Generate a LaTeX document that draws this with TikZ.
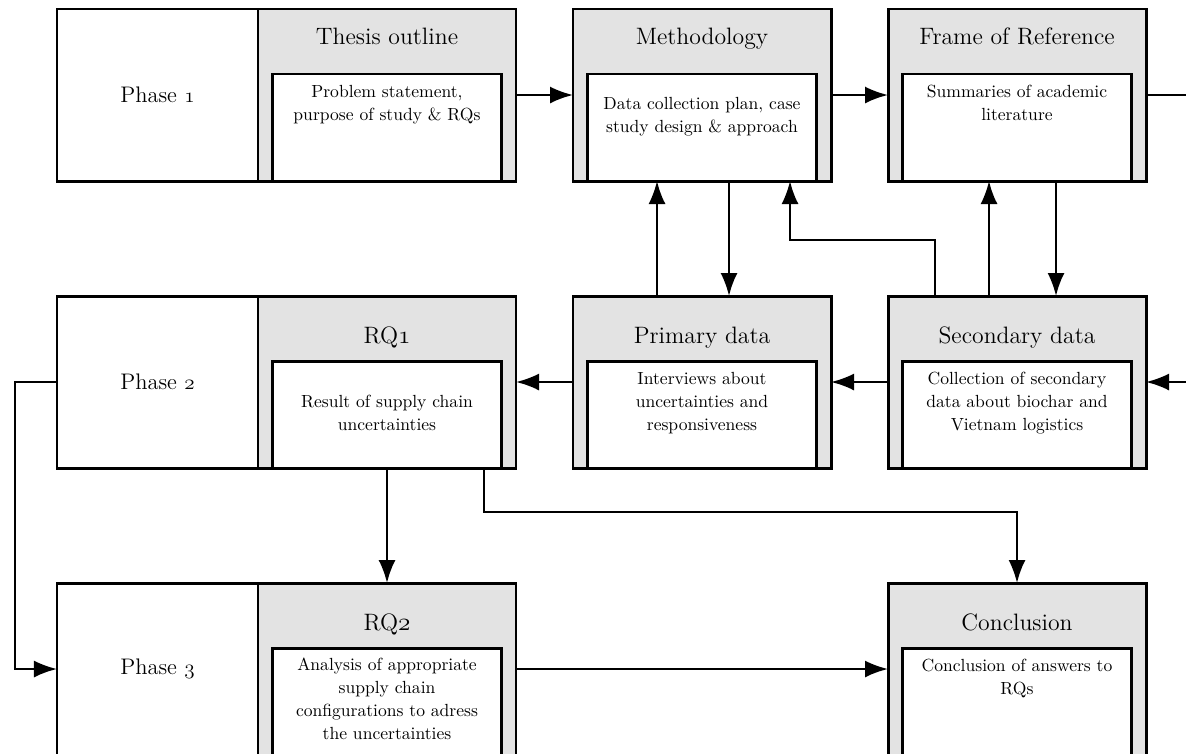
\documentclass[tikz,border=0pt]{standalone}
\usepackage{xcolor}
\usepackage{tikz}
\usetikzlibrary{arrows.meta,positioning}
\definecolor{panelgray}{HTML}{E3E3E3}

\begin{document}
\begin{tikzpicture}[>=Latex,
  phasebox/.style={draw,line width=1.7pt,fill=white,outer sep=0pt,inner sep=0pt,minimum width=4.02cm,minimum height=3.44cm,font=\fontsize{12.8}{15}\selectfont},
  stagebox/.style={draw,line width=1.7pt,fill=panelgray,outer sep=0pt,inner sep=0pt,minimum width=5.16cm,minimum height=3.44cm},
  stagetitle/.style={inner sep=0pt,anchor=base,font=\fontsize{13.5}{16}\selectfont},
  detailbox/.style={draw,line width=1.7pt,fill=white,outer sep=0pt,inner sep=0pt,minimum width=4.58cm,minimum height=2.14cm},
  detailtext/.style={inner sep=0pt,anchor=north,align=center,font=\fontsize{10}{13}\selectfont},
  flow/.style={-{Latex[length=4.6mm,width=3.4mm]},line width=1.3pt},
  link/.style={line width=1.3pt}]
  \useasboundingbox (0,0) rectangle (23.72,-15.06);
  \clip (0,0) rectangle (23.72,-15.06);

  % phase 1
  \node[phasebox] (phase1) at (3.15,-1.9) {Phase \legacyoldstylenums{1}};
  \node[stagebox,right=0pt of phase1] (thesis) {};
  \node[stagebox,right=1.14cm of thesis] (method) {};
  \node[stagebox,right=1.14cm of method] (frame) {};
  \node[stagetitle] (thesist) at ([yshift=-0.7cm]thesis.north) {Thesis outline};
  \node[stagetitle] (methodt) at ([yshift=-0.7cm]method.north) {Methodology};
  \node[stagetitle] (framet) at ([yshift=-0.7cm]frame.north) {Frame of Reference};
  \node[detailbox,above=0pt of thesis.south] (thesisd) {};
  \node[detailbox,above=0pt of method.south] (methodd) {};
  \node[detailbox,above=0pt of frame.south] (framed) {};
  \node[detailtext,below=0.22cm of thesisd.north] (thesisx) {Problem statement,\\ purpose of study \& RQs};
  \node[detailtext,below=0.46cm of methodd.north] (methodx) {Data collection plan, case\\ study design \& approach};
  \node[detailtext,below=0.22cm of framed.north] (framex) {Summaries of academic\\ literature};

  % phase 2
  \node[phasebox,below=2.3cm of phase1] (phase2) {Phase \legacyoldstylenums{2}};
  \node[stagebox,right=0pt of phase2] (rq1) {};
  \node[stagebox,right=1.14cm of rq1] (primary) {};
  \node[stagebox,right=1.14cm of primary] (second) {};
  \node[stagetitle] (rq1t) at ([yshift=-0.94cm]rq1.north) {RQ\legacyoldstylenums{1}};
  \node[stagetitle] (primaryt) at ([yshift=-0.94cm]primary.north) {Primary data};
  \node[stagetitle] (secondt) at ([yshift=-0.94cm]second.north) {Secondary data};
  \node[detailbox,above=0pt of rq1.south] (rq1d) {};
  \node[detailbox,above=0pt of primary.south] (primaryd) {};
  \node[detailbox,above=0pt of second.south] (secondd) {};
  \node[detailtext,below=0.68cm of rq1d.north] (rq1x) {Result of supply chain\\ uncertainties};
  \node[detailtext,below=0.22cm of primaryd.north] (primaryx) {Interviews about\\ uncertainties and\\ responsiveness};
  \node[detailtext,below=0.22cm of secondd.north] (secondx) {Collection of secondary\\ data about biochar and\\ Vietnam logistics};

  % phase 3
  \node[phasebox,below=2.3cm of phase2] (phase3) {Phase \legacyoldstylenums{3}};
  \node[stagebox,right=0pt of phase3] (rq2) {};
  \node[stagebox,below=2.3cm of second] (conc) {};
  \node[stagetitle] (rq2t) at ([yshift=-0.94cm]rq2.north) {RQ\legacyoldstylenums{2}};
  \node[stagetitle] (conct) at ([yshift=-0.94cm]conc.north) {Conclusion};
  \node[detailbox,above=0pt of rq2.south] (rq2d) {};
  \node[detailbox,above=0pt of conc.south] (concd) {};
  \node[detailtext,below=0.2cm of rq2d.north] (rq2x) {Analysis of appropriate\\ supply chain\\ configurations to adress\\ the uncertainties};
  \node[detailtext,below=0.22cm of concd.north] (concx) {Conclusion of answers to\\ RQs};

  \coordinate (exitR) at ([xshift=1.2cm]frame.east);
  \coordinate (entryR) at ([xshift=1.2cm]second.east);

  \draw[flow] (thesis.east) -- (method.west);
  \draw[flow] (method.east) -- (frame.west);
  \draw[link] (frame.east) -- (exitR);
  \draw[flow] (entryR) -- (second.east);
  \draw[flow] (second.west) -- (primary.east);
  \draw[flow] (primary.west) -- (rq1.east);
  \draw[flow] ([xshift=-0.9cm]primary.north) -- ([xshift=-0.9cm]method.south);
  \draw[flow] ([xshift=0.54cm]method.south) -- ([xshift=0.54cm]primary.north);
  \draw[flow] ([xshift=-1.64cm]second.north) |- ([xshift=1.76cm,yshift=-1.18cm]method.south) -- ([xshift=1.76cm]method.south);
  \draw[flow] ([xshift=-0.56cm]second.north) -- ([xshift=-0.56cm]frame.south);
  \draw[flow] ([xshift=0.78cm]frame.south) -- ([xshift=0.78cm]second.north);
  \draw[flow] (rq1.south) -- (rq2.north);
  \draw[flow] ([xshift=1.94cm]rq1.south) -- ++(0,-0.88) -| (conc.north);
  \draw[flow] (phase2.west) -- ++(-0.84,0) |- (phase3.west);
  \draw[flow] (rq2.east) -- (conc.west);
\end{tikzpicture}
\end{document}
